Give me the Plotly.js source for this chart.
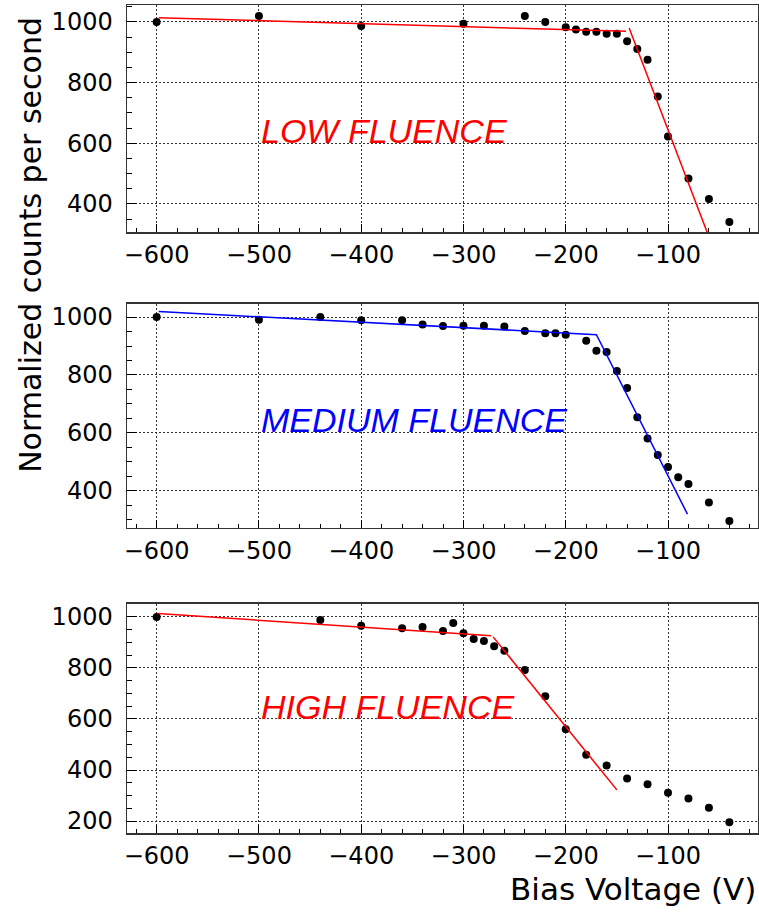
<!DOCTYPE html>
<html>
<head>
<meta charset="utf-8">
<script src="https://cdn.plot.ly/plotly-3.0.1.min.js"></script>
<style>html,body{margin:0;padding:0;background:#fff;}</style>
</head>
<body>
<div id="chart" style="width:759px;height:920px;"></div>
<script>
// ---- data ----
const lowX  = [-600,-500,-400,-300,-240,-220,-200,-190,-180,-170,-160,-150,-140,-130,-120,-110,-100,-80,-60,-40];
const lowY  = [1000,1020,987,994,1020,1000,983,975,968,968,961,961,936,911,875,754,622,484,416,340];
const lowFitX = [-598,-141,null,-138,-61];
const lowFitY = [1014,969,null,980,300];

const medX  = [-600,-500,-440,-400,-360,-340,-320,-300,-280,-260,-240,-220,-210,-200,-180,-170,-160,-150,-140,-130,-120,-110,-100,-90,-80,-60,-40];
const medY  = [1000,991,1000,989,989,974,969,970,970,967,952,944,944,939,918,884,879,814,755,654,581,524,482,447,424,360,296];
const medFitX = [-598,-170,-81];
const medFitY = [1019,939,320];

const highX = [-600,-440,-400,-360,-340,-320,-310,-300,-290,-280,-270,-260,-240,-220,-200,-180,-160,-140,-120,-100,-80,-60,-40];
const highY = [1000,988,966,956,961,945,976,936,914,906,885,868,792,689,560,460,418,367,344,311,288,252,195];
const highFitX = [-599,-273,null,-271,-150];
const highFitY = [1014,926,null,922,322];

const labels = ["LOW FLUENCE","MEDIUM FLUENCE","HIGH FLUENCE"];
const xTitle = "Bias Voltage (V)";
const yTitle = "Normalized counts per second";

// ---- traces ----
const mk = {color:'#000', size:8};
const traces = [
  {x:lowX, y:lowY, xaxis:'x', yaxis:'y', mode:'markers', marker:mk, type:'scatter'},
  {x:lowFitX, y:lowFitY, xaxis:'x', yaxis:'y', mode:'lines', line:{color:'#ff0000', width:1.5}, connectgaps:false, type:'scatter'},
  {x:medX, y:medY, xaxis:'x2', yaxis:'y2', mode:'markers', marker:mk, type:'scatter'},
  {x:medFitX, y:medFitY, xaxis:'x2', yaxis:'y2', mode:'lines', line:{color:'#0000ff', width:1.5}, type:'scatter'},
  {x:highX, y:highY, xaxis:'x3', yaxis:'y3', mode:'markers', marker:mk, type:'scatter'},
  {x:highFitX, y:highFitY, xaxis:'x3', yaxis:'y3', mode:'lines', line:{color:'#ff0000', width:1.5}, connectgaps:false, type:'scatter'}
];

const tickFont = {family:'DejaVu Sans', size:24, color:'#000'};
function xa(anchor){
  return {anchor:anchor, range:[-629,-12], dtick:100, tick0:0, ticks:'inside', ticklen:8, tickwidth:1, tickcolor:'#000',
    minor:{dtick:20, ticks:'inside', ticklen:4, tickwidth:1, tickcolor:'#000', showgrid:false},
    showgrid:true, gridcolor:'#333', gridwidth:1, griddash:'2px,2px',
    showline:true, linecolor:'#333', linewidth:1.5, mirror:true, zeroline:false,
    tickfont:tickFont, ticklabelstandoff:1};
}
function ya(anchor, range, dom){
  return {anchor:anchor, domain:dom, range:range, dtick:200, tick0:0, ticks:'inside', ticklen:10, tickwidth:1, tickcolor:'#000',
    minor:{dtick:50, ticks:'inside', ticklen:5, tickwidth:1, tickcolor:'#000', showgrid:false},
    showgrid:true, gridcolor:'#333', gridwidth:1, griddash:'2px,2px',
    showline:true, linecolor:'#333', linewidth:1.5, mirror:true, zeroline:false,
    tickfont:tickFont, ticklabelstandoff:8};
}

const annFont = (c)=>({family:'Liberation Sans, Arial, sans-serif', size:34, color:c, style:'italic'});

const layout = {
  width:759, height:920,
  margin:{l:127, r:1, t:5, b:87},
  paper_bgcolor:'#fff', plot_bgcolor:'#fff',
  showlegend:false,
  xaxis: xa('y'),
  xaxis2: xa('y2'),
  xaxis3: xa('y3'),
  yaxis: ya('x', [307,1056], [0.7258,1.0]),
  yaxis2: ya('x2', [272,1045], [0.3684,0.6389]),
  yaxis3: ya('x3', [153,1051], [0.0,0.2766]),
  annotations:[
    {text:labels[0], xref:'x', yref:'y', x:-500, y:640, xanchor:'left', yanchor:'middle', showarrow:false, font:annFont('#ff0000')},
    {text:labels[1], xref:'x2', yref:'y2', x:-500, y:644, xanchor:'left', yanchor:'middle', showarrow:false, font:annFont('#0000ff')},
    {text:labels[2], xref:'x3', yref:'y3', x:-500, y:647, xanchor:'left', yanchor:'middle', showarrow:false, font:annFont('#ff0000')},
    {text:yTitle, xref:'paper', yref:'paper', x:-0.154, y:0.7101, xanchor:'center', yanchor:'middle', textangle:-90, showarrow:false,
      font:{family:'DejaVu Sans', size:30, color:'#000'}},
    {text:xTitle, xref:'paper', yref:'paper', x:1, y:-0.0676, xanchor:'right', yanchor:'middle', showarrow:false,
      font:{family:'DejaVu Sans', size:31, color:'#000'}}
  ]
};

Plotly.newPlot('chart', traces, layout, {staticPlot:true, displayModeBar:false});
</script>
</body>
</html>
